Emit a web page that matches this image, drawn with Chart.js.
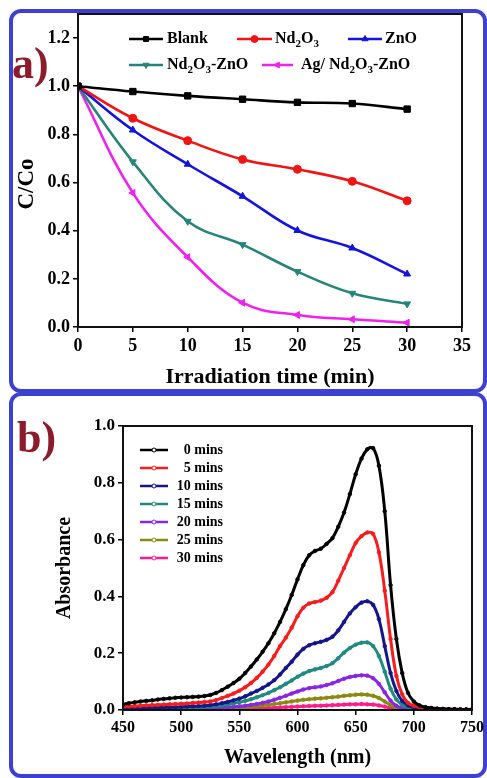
<!DOCTYPE html>
<html>
<head>
<meta charset="utf-8">
<script src="https://cdn.jsdelivr.net/npm/chart.js@4.4.1/dist/chart.umd.min.js"></script>
<style>
  html, body { margin: 0; padding: 0; background: #fff; }
  body { width: 487px; height: 778px; position: relative; overflow: hidden; }
  .frame { position: absolute; box-sizing: border-box; border: 4px solid #3d40d0; border-radius: 12px; }
  #frameA { left: 9px; top: 9px; width: 478px; height: 384px; }
  #frameB { left: 9px; top: 392px; width: 478px; height: 386px; }
  canvas { position: absolute; left: 0; }
  #chartA { top: 0; }
  #chartB { top: 392px; }
  .tag { position: absolute; font: bold 44px 'Liberation Serif', serif; color: #8c1b2c; line-height: 44px; }
</style>
</head>
<body>
<div class="frame" id="frameA"></div>
<div class="frame" id="frameB"></div>
<canvas id="chartA" width="487" height="392"></canvas>
<canvas id="chartB" width="487" height="386"></canvas>
<div class="tag" style="left:12px; top:42px;">a)</div>
<div class="tag" style="left:17px; top:416px;">b)</div>
<script>
// ---- panel a: C/Co vs irradiation time ----
const times = [0, 5, 10, 15, 20, 25, 30];
const blank = [1.0, 0.978, 0.96, 0.946, 0.933, 0.928, 0.905];
const nd2o3 = [1.0, 0.867, 0.774, 0.696, 0.655, 0.605, 0.524];
const zno = [1.0, 0.818, 0.676, 0.543, 0.401, 0.328, 0.22];
const nd2o3Zno = [1.0, 0.686, 0.439, 0.342, 0.23, 0.14, 0.096];
const agNd2o3Zno = [1.0, 0.557, 0.29, 0.101, 0.05, 0.032, 0.018];

// ---- panel b: absorbance spectra ----
const wavelengths = [450, 455, 460, 465, 470, 475, 480, 485, 490, 495, 500, 505, 510, 515, 520, 525, 530, 535, 540, 545,
  550, 555, 560, 565, 570, 575, 580, 585, 590, 595, 600, 605, 610, 615, 620, 625, 630, 635, 640, 645,
  650, 655, 660, 665, 670, 675, 680, 685, 690, 695, 700, 705, 710, 715, 720, 725, 730, 735, 740, 745, 750];
const min0 = [0.020, 0.024, 0.027, 0.030, 0.032, 0.034, 0.037, 0.039, 0.041, 0.043, 0.044, 0.045, 0.046, 0.047, 0.049, 0.053, 0.060, 0.070, 0.082, 0.095,
  0.110, 0.130, 0.153, 0.178, 0.205, 0.235, 0.270, 0.310, 0.355, 0.405, 0.460, 0.510, 0.545, 0.560, 0.568, 0.585, 0.605, 0.645, 0.695, 0.760,
  0.830, 0.885, 0.918, 0.922, 0.860, 0.700, 0.440, 0.250, 0.130, 0.060, 0.030, 0.016, 0.010, 0.007, 0.005, 0.004, 0.003, 0.003, 0.002, 0.002, 0.002];
const min5 = [0.012, 0.013, 0.014, 0.015, 0.016, 0.017, 0.018, 0.019, 0.020, 0.021, 0.022, 0.023, 0.025, 0.026, 0.028, 0.030, 0.035, 0.042, 0.050, 0.058,
  0.068, 0.080, 0.095, 0.113, 0.135, 0.160, 0.190, 0.225, 0.255, 0.290, 0.330, 0.360, 0.375, 0.380, 0.385, 0.395, 0.415, 0.455, 0.500, 0.545,
  0.588, 0.612, 0.625, 0.620, 0.555, 0.420, 0.250, 0.120, 0.055, 0.025, 0.015, 0.010, 0.007, 0.005, 0.004, 0.003, 0.003, 0.002, 0.002, 0.002, 0.002];
const min10 = [0.006, 0.006, 0.007, 0.007, 0.008, 0.008, 0.009, 0.009, 0.010, 0.010, 0.011, 0.012, 0.013, 0.014, 0.015, 0.017, 0.020, 0.024, 0.028, 0.034,
  0.040, 0.048, 0.058, 0.067, 0.078, 0.090, 0.105, 0.125, 0.148, 0.170, 0.195, 0.215, 0.228, 0.235, 0.240, 0.247, 0.258, 0.280, 0.310, 0.340,
  0.362, 0.378, 0.383, 0.370, 0.320, 0.225, 0.130, 0.067, 0.032, 0.016, 0.009, 0.006, 0.005, 0.004, 0.003, 0.003, 0.002, 0.002, 0.002, 0.002, 0.002];
const min15 = [0.004, 0.004, 0.005, 0.005, 0.005, 0.006, 0.006, 0.006, 0.007, 0.007, 0.008, 0.009, 0.009, 0.010, 0.011, 0.012, 0.014, 0.016, 0.019, 0.023,
  0.027, 0.032, 0.038, 0.045, 0.052, 0.060, 0.070, 0.080, 0.092, 0.104, 0.117, 0.128, 0.137, 0.143, 0.148, 0.155, 0.165, 0.182, 0.202, 0.218,
  0.230, 0.237, 0.238, 0.225, 0.190, 0.135, 0.075, 0.037, 0.018, 0.009, 0.005, 0.003, 0.002, 0.002, 0.002, 0.001, 0.001, 0.001, 0.001, 0.001, 0.001];
const min20 = [0.003, 0.003, 0.003, 0.003, 0.004, 0.004, 0.004, 0.004, 0.005, 0.005, 0.005, 0.006, 0.006, 0.006, 0.007, 0.007, 0.008, 0.009, 0.010, 0.011,
  0.013, 0.015, 0.018, 0.021, 0.025, 0.030, 0.036, 0.043, 0.050, 0.058, 0.065, 0.072, 0.077, 0.080, 0.083, 0.088, 0.094, 0.102, 0.110, 0.116,
  0.120, 0.122, 0.121, 0.112, 0.092, 0.062, 0.033, 0.015, 0.007, 0.004, 0.003, 0.002, 0.002, 0.001, 0.001, 0.001, 0.001, 0.001, 0.001, 0.001, 0.001];
const min25 = [0.002, 0.002, 0.002, 0.002, 0.003, 0.003, 0.003, 0.003, 0.003, 0.004, 0.004, 0.004, 0.004, 0.005, 0.005, 0.005, 0.006, 0.006, 0.007, 0.008,
  0.009, 0.010, 0.012, 0.014, 0.016, 0.018, 0.021, 0.024, 0.027, 0.030, 0.033, 0.036, 0.038, 0.040, 0.041, 0.043, 0.045, 0.047, 0.050, 0.052,
  0.054, 0.055, 0.054, 0.050, 0.042, 0.030, 0.017, 0.008, 0.004, 0.003, 0.002, 0.002, 0.001, 0.001, 0.001, 0.001, 0.001, 0.001, 0.001, 0.001, 0.001];
const min30 = [0.001, 0.001, 0.001, 0.001, 0.001, 0.001, 0.001, 0.002, 0.002, 0.002, 0.002, 0.002, 0.002, 0.002, 0.002, 0.003, 0.003, 0.003, 0.003, 0.004,
  0.004, 0.005, 0.005, 0.006, 0.006, 0.007, 0.008, 0.009, 0.010, 0.011, 0.012, 0.013, 0.014, 0.015, 0.015, 0.016, 0.017, 0.018, 0.019, 0.020,
  0.020, 0.021, 0.020, 0.019, 0.016, 0.012, 0.007, 0.004, 0.002, 0.001, 0.001, 0.001, 0.001, 0.001, 0.001, 0.001, 0.001, 0.001, 0.001, 0.001, 0.001];

const serif = "'Liberation Serif', 'Times New Roman', serif";

function pairs(xs, ys) {
  return xs.map((x, i) => ({ x: x, y: ys[i] }));
}

// box round the plot area
const frame = {
  id: 'frame',
  afterDraw(chart) {
    const { ctx, chartArea: a } = chart;
    ctx.save();
    ctx.strokeStyle = '#111';
    ctx.lineWidth = 2;
    ctx.strokeRect(a.left, a.top, a.right - a.left, a.bottom - a.top);
    ctx.restore();
  }
};

// text with digits set as subscripts (Nd2O3)
function drawSubText(ctx, text, x, y, size) {
  ctx.textAlign = 'left';
  ctx.textBaseline = 'middle';
  ctx.fillStyle = '#000';
  for (const ch of text) {
    const sub = /[0-9]/.test(ch);
    ctx.font = 'bold ' + (sub ? Math.round(size * 0.7) : size) + 'px ' + serif;
    ctx.fillText(ch, x, sub ? y + 5 : y);
    x += ctx.measureText(ch).width;
  }
}

const legendA = {
  id: 'legendA',
  afterDraw(chart) {
    const ctx = chart.ctx;
    // [line start, line end, text start, row y]
    const spots = [[129, 163, 167, 39], [237, 272, 275, 39], [348, 382, 385, 39], [129, 163, 167, 65], [262, 293, 301, 65]];
    chart.data.datasets.forEach((ds, i) => {
      const [x0, x1, tx, y] = spots[i];
      ctx.save();
      ctx.strokeStyle = ds.borderColor;
      ctx.fillStyle = ds.borderColor;
      ctx.lineWidth = 2.5;
      ctx.beginPath();
      ctx.moveTo(x0, y);
      ctx.lineTo(x1, y);
      ctx.stroke();
      ctx.lineWidth = 1;
      Chart.helpers.drawPoint(ctx, { pointStyle: ds.pointStyle, radius: 3.5, rotation: ds.pointRotation || 0, borderWidth: 1 }, (x0 + x1) / 2, y);
      drawSubText(ctx, ds.label, tx, y, 16);
      ctx.restore();
    });
  }
};

const yTitleA = {
  id: 'yTitleA',
  afterDraw(chart) {
    const ctx = chart.ctx;
    ctx.save();
    ctx.translate(27, 184);
    ctx.rotate(-Math.PI / 2);
    ctx.font = 'bold 23px ' + serif;
    ctx.fillStyle = '#000';
    ctx.textAlign = 'center';
    ctx.textBaseline = 'middle';
    ctx.fillText('C/Co', 0, 0);
    ctx.restore();
  }
};

const legendB = {
  id: 'legendB',
  afterDraw(chart) {
    const ctx = chart.ctx;
    chart.data.datasets.forEach((ds, i) => {
      const y = 58 + 18 * i;
      ctx.save();
      ctx.strokeStyle = ds.borderColor;
      ctx.lineWidth = 2.5;
      ctx.beginPath();
      ctx.moveTo(140, y);
      ctx.lineTo(168, y);
      ctx.stroke();
      ctx.fillStyle = '#fff';
      ctx.lineWidth = 1;
      Chart.helpers.drawPoint(ctx, { pointStyle: 'circle', radius: 2, borderWidth: 1 }, 154, y);
      ctx.fillStyle = '#000';
      ctx.font = 'bold 14px ' + serif;
      ctx.textAlign = 'right';
      ctx.textBaseline = 'middle';
      ctx.fillText(ds.label, 223, y);
      ctx.restore();
    });
  }
};

function curveA(label, ys, color, style, rot) {
  return {
    label: label,
    data: pairs(times, ys),
    borderColor: color,
    backgroundColor: color,
    borderWidth: 2.6,
    pointStyle: style,
    pointRotation: rot,
    pointRadius: style === 'rect' ? 4.5 : 4,
    pointBorderWidth: 1,
    tension: 0.4
  };
}

new Chart(document.getElementById('chartA'), {
  type: 'line',
  data: {
    datasets: [
      curveA('Blank', blank, '#000000', 'rect', 0),
      curveA('Nd2O3', nd2o3, '#f01414', 'circle', 0),
      curveA('ZnO', zno, '#1414e0', 'triangle', 0),
      curveA('Nd2O3-ZnO', nd2o3Zno, '#26857a', 'triangle', 180),
      curveA('Ag/ Nd2O3-ZnO', agNd2o3Zno, '#f020f0', 'triangle', -90)
    ]
  },
  options: {
    responsive: false,
    animation: false,
    layout: { padding: { left: 0, top: 14, right: 25, bottom: 0 } },
    scales: {
      x: {
        type: 'linear',
        min: 0,
        max: 35,
        ticks: { stepSize: 5, color: '#000', font: { family: serif, size: 18, weight: 'bold' }, padding: 4, maxRotation: 0 },
        grid: { drawOnChartArea: false, drawTicks: true, tickLength: 5, color: '#000', lineWidth: 1.5 },
        border: { color: '#000', width: 2 },
        title: { display: true, text: 'Irradiation time (min)', color: '#000', font: { family: serif, size: 22, weight: 'bold' }, padding: { top: 0, bottom: 1 } },
        afterFit: s => { s.height = 65; }
      },
      y: {
        min: 0,
        max: 1.3,
        ticks: { stepSize: 0.2, includeBounds: false, color: '#000', font: { family: serif, size: 18, weight: 'bold' }, padding: 3,
          callback: v => v.toFixed(1) },
        grid: { drawOnChartArea: false, drawTicks: true, tickLength: 5, color: '#000', lineWidth: 1.5 },
        border: { color: '#000', width: 2 },
        afterFit: s => { s.width = 78; }
      }
    },
    plugins: { legend: { display: false }, tooltip: { enabled: false } }
  },
  plugins: [frame, legendA, yTitleA]
});

function curveB(label, ys, color) {
  return {
    label: label,
    data: pairs(wavelengths, ys),
    borderColor: color,
    backgroundColor: color,
    borderWidth: 3,
    pointRadius: 1.8,
    pointBorderWidth: 0.8,
    tension: 0.4
  };
}

new Chart(document.getElementById('chartB'), {
  type: 'line',
  data: {
    datasets: [
      curveB('0 mins', min0, '#000000'),
      curveB('5 mins', min5, '#f51d1d'),
      curveB('10 mins', min10, '#15158c'),
      curveB('15 mins', min15, '#1f8a80'),
      curveB('20 mins', min20, '#8a24e6'),
      curveB('25 mins', min25, '#8a8a12'),
      curveB('30 mins', min30, '#ff1a8c')
    ]
  },
  options: {
    responsive: false,
    animation: false,
    layout: { padding: { left: 0, top: 34, right: 14, bottom: 0 } },
    scales: {
      x: {
        type: 'linear',
        min: 450,
        max: 750,
        ticks: { stepSize: 50, color: '#000', font: { family: serif, size: 16, weight: 'bold' }, padding: 3, maxRotation: 0 },
        grid: { drawOnChartArea: false, drawTicks: true, tickLength: 5, color: '#000', lineWidth: 1.5 },
        border: { color: '#000', width: 2 },
        title: { display: true, text: 'Wavelength (nm)', color: '#000', font: { family: serif, size: 20, weight: 'bold' }, padding: { top: 0, bottom: 8 } },
        afterFit: s => { s.height = 68; }
      },
      y: {
        min: 0,
        max: 1.0,
        ticks: { stepSize: 0.2, color: '#000', font: { family: serif, size: 17, weight: 'bold' }, padding: 3,
          callback: v => v.toFixed(1) },
        grid: { drawOnChartArea: false, drawTicks: true, tickLength: 5, color: '#000', lineWidth: 1.5 },
        border: { color: '#000', width: 2 },
        title: { display: true, text: 'Absorbance', color: '#000', font: { family: serif, size: 20, weight: 'bold' }, padding: { top: 53, bottom: 0 } },
        afterFit: s => { s.width = 123; }
      }
    },
    plugins: { legend: { display: false }, tooltip: { enabled: false } }
  },
  plugins: [frame, legendB]
});
</script>
</body>
</html>
